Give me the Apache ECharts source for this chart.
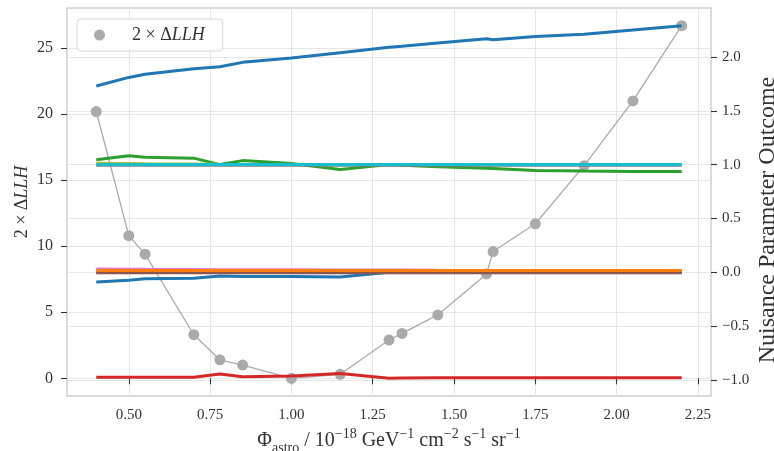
<!DOCTYPE html>
<html><head><meta charset="utf-8">
<script src="https://cdn.jsdelivr.net/npm/echarts@6.0.0/dist/echarts.min.js"></script>
<style>html,body{margin:0;padding:0;background:#fff}#c{width:774px;height:451px}</style>
</head><body><div id="c"></div>
<script>
// ---- data ----
const xValues   = [0.40, 0.50, 0.55, 0.70, 0.78, 0.85, 1.00, 1.15, 1.30, 1.34, 1.45, 1.60, 1.62, 1.75, 1.90, 2.05, 2.20];
const llh       = [20.2, 10.8, 9.4, 3.3, 1.4, 1.0, 0.0, 0.3, 2.9, 3.4, 4.8, 7.9, 9.6, 11.7, 16.1, 21.0, 26.7];
const nuBlueTop = [1.73, 1.81, 1.84, 1.89, 1.91, 1.95, 1.99, 2.04, 2.09, 2.10, 2.13, 2.17, 2.16, 2.19, 2.21, 2.25, 2.29];
const nuGreen   = [1.045, 1.083, 1.068, 1.06, 1.0, 1.037, 1.01, 0.955, 1.0, 0.995, 0.98, 0.965, 0.963, 0.945, 0.94, 0.937, 0.935];
const nuRed     = [-0.975, -0.975, -0.975, -0.975, -0.945, -0.972, -0.965, -0.94, -0.985, -0.982, -0.98, -0.98, -0.98, -0.98, -0.98, -0.98, -0.98];
const nuOrange  = [0.015, 0.015, 0.015, 0.015, 0.015, 0.015, 0.015, 0.015, 0.015, 0.015, 0.015, 0.015, 0.015, 0.015, 0.015, 0.015, 0.015];
const nuPurple  = [0.0, 0.0, 0.0, 0.0, 0.0, 0.0, 0.0, 0.0, 0.0, 0.0, 0.0, 0.0, 0.0, 0.0, 0.0, 0.0, 0.0];
const nuBrown   = [-0.005, -0.005, -0.005, -0.005, -0.005, -0.005, -0.005, -0.005, -0.005, -0.005, -0.005, -0.005, -0.005, -0.005, -0.005, -0.005, -0.005];
const nuPink    = [0.03, 0.028, 0.027, 0.025, 0.024, 0.023, 0.022, 0.02, 0.02, 0.02, 0.018, 0.017, 0.017, 0.016, 0.015, 0.015, 0.015];
const nuGray    = [0.995, 0.995, 0.995, 0.995, 0.995, 0.995, 0.995, 0.995, 0.995, 0.995, 0.995, 0.995, 0.995, 0.995, 0.995, 0.995, 0.995];
const nuOlive   = [1.012, 1.01, 1.008, 1.005, 1.003, 1.002, 1.0, 1.0, 1.0, 1.0, 1.0, 1.0, 1.0, 1.0, 1.0, 1.0, 1.0];
const nuCyan    = [1.0, 1.0, 1.0, 1.0, 1.0, 1.0, 1.0, 1.0, 1.0, 1.0, 1.0, 1.0, 1.0, 1.0, 1.0, 1.0, 1.0];
const nuBlueLow = [-0.09, -0.075, -0.06, -0.055, -0.035, -0.04, -0.04, -0.045, 0.0, 0.0, 0.0, 0.0, 0.0, 0.0, 0.0, 0.0, 0.0];
const xTicks     = [0.50, 0.75, 1.00, 1.25, 1.50, 1.75, 2.00, 2.25];
const leftTicks  = [0, 5, 10, 15, 20, 25];
const rightTicks = [-1.0, -0.5, 0.0, 0.5, 1.0, 1.5, 2.0];

// ---- chart ----
const FONT = '"Liberation Serif", "DejaVu Serif", serif';
const TXT = '#333333';
const GRID = '#e6e6e6';
const pairs = ys => xValues.map((x, i) => [x, ys[i]]);
const minus = s => s.replace('-', '\u2212');

function nuLine(name, ys, color, z) {
  return { name, type: 'line', yAxisIndex: 1, data: pairs(ys), showSymbol: false, symbol: 'none',
    lineStyle: { color, width: 3 }, itemStyle: { color }, z, silent: true };
}

const chart = echarts.init(document.getElementById('c'), null, { renderer: 'canvas' });
const tickStyle = { show: true, inside: false, length: 6, lineStyle: { color: '#333', width: 1.1 } };
chart.setOption({
  animation: false,
  backgroundColor: '#ffffff',
  grid: { left: 67, right: 63, top: 8, bottom: 55, show: true, borderColor: '#cfcfcf', borderWidth: 1.5,
    backgroundColor: '#fff', outerBoundsMode: 'none', containLabel: false },
  legend: {
    left: 77, top: 19, orient: 'vertical',
    data: [{ name: 'llh', icon: 'circle' }],
    itemWidth: 11, itemHeight: 11,
    padding: [7, 18, 7, 17],
    backgroundColor: 'rgba(255,255,255,0.85)', borderColor: '#d4d4d4', borderWidth: 1, borderRadius: 4,
    formatter: () => '2 × Δ{i|LLH}',
    textStyle: { fontFamily: FONT, fontSize: 18, color: TXT, padding: [0, 0, 0, 22],
      rich: { i: { fontFamily: FONT, fontSize: 18, fontStyle: 'italic', color: TXT } } }
  },
  xAxis: {
    type: 'value', min: 0.31, max: 2.29,
    axisLine: { show: false },
    axisTick: Object.assign({ customValues: xTicks }, tickStyle),
    axisLabel: { customValues: xTicks, formatter: v => v.toFixed(2), fontFamily: FONT, fontSize: 15, color: TXT, margin: 12 },
    splitLine: { show: true, lineStyle: { color: GRID, width: 1 } },
    name: '{n|Φ}{sub|astro}{n| / 10}{sup|−18}{n| GeV}{sup|−1}{n| cm}{sup|−2}{n| s}{sup|−1}{n| sr}{sup|−1}',
    nameLocation: 'middle', nameGap: 31, nameMoveOverlap: false,
    nameTextStyle: { fontFamily: FONT, fontSize: 20, color: TXT,
      rich: {
        n: { fontFamily: FONT, fontSize: 20, color: TXT, lineHeight: 28 },
        sup: { fontFamily: FONT, fontSize: 14, color: TXT, lineHeight: 16, verticalAlign: 'top' },
        sub: { fontFamily: FONT, fontSize: 14, color: TXT, lineHeight: 15, verticalAlign: 'bottom' }
      } }
  },
  yAxis: [
    {
      type: 'value', min: -1.34, max: 28.04, position: 'left',
      axisLine: { show: false },
      axisTick: Object.assign({ customValues: leftTicks }, tickStyle),
      axisLabel: { customValues: leftTicks, formatter: v => String(v), fontFamily: FONT, fontSize: 16, color: TXT, margin: 14 },
      splitLine: { show: true, lineStyle: { color: GRID, width: 1 } },
      name: '2 × Δ{i|LLH}', nameLocation: 'middle', nameGap: 36, nameRotate: 90, nameMoveOverlap: false,
      nameTextStyle: { fontFamily: FONT, fontSize: 18, color: TXT,
        rich: { i: { fontFamily: FONT, fontSize: 18, fontStyle: 'italic', color: TXT } } }
    },
    {
      type: 'value', min: -1.15, max: 2.455, position: 'right',
      axisLine: { show: false },
      axisTick: Object.assign({ customValues: rightTicks }, tickStyle),
      axisLabel: { customValues: rightTicks, formatter: v => minus(v.toFixed(1)), fontFamily: FONT, fontSize: 15, color: TXT, margin: 11 },
      splitLine: { show: true, lineStyle: { color: GRID, width: 1 } },
      name: 'Nuisance Parameter Outcome', nameLocation: 'middle', nameGap: 45, nameRotate: 90, nameMoveOverlap: false,
      nameTextStyle: { fontFamily: FONT, fontSize: 24, color: TXT, padding: [0, 36, 0, 0] }
    }
  ],
  series: [
    { name: 'llh', type: 'line', yAxisIndex: 0, data: pairs(llh), symbol: 'circle', symbolSize: 11, showSymbol: true,
      lineStyle: { color: '#aaaaaa', width: 1.3 }, itemStyle: { color: '#aaaaaa' }, z: 2, silent: true },
    nuLine('n_red', nuRed, '#d62728', 3),
    nuLine('n_blue_low', nuBlueLow, '#1f77b4', 3),
    nuLine('n_purple', nuPurple, '#9467bd', 3),
    nuLine('n_pink', nuPink, '#e377c2', 3),
    nuLine('n_brown', nuBrown, '#8c564b', 3),
    nuLine('n_orange', nuOrange, '#ff7f0e', 4),
    nuLine('n_green', nuGreen, '#2ca02c', 3),
    nuLine('n_gray', nuGray, '#7f7f7f', 3),
    nuLine('n_olive', nuOlive, '#bcbd22', 3),
    nuLine('n_cyan', nuCyan, '#17becf', 4),
    nuLine('n_blue_top', nuBlueTop, '#1f77b4', 3)
  ]
});
</script>
</body></html>
